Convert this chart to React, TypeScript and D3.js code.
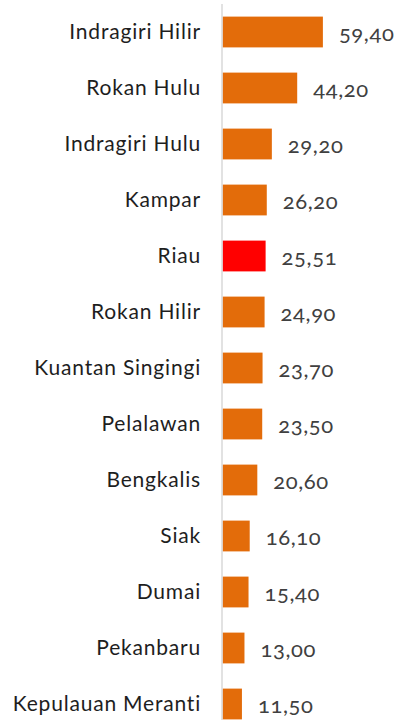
import React from "react";
import * as d3 from "d3";

const categories = [
  "Indragiri Hilir",
  "Rokan Hulu",
  "Indragiri Hulu",
  "Kampar",
  "Riau",
  "Rokan Hilir",
  "Kuantan Singingi",
  "Pelalawan",
  "Bengkalis",
  "Siak",
  "Dumai",
  "Pekanbaru",
  "Kepulauan Meranti",
];
const values = [59.4, 44.2, 29.2, 26.2, 25.51, 24.9, 23.7, 23.5, 20.6, 16.1, 15.4, 13.0, 11.5];
const highlight = "Riau";

const W = 402;
const H = 720;
const axisX = 222;

export default function App() {
  const y = d3
    .scaleBand<string>()
    .domain(categories)
    .range([4, 732])
    .paddingInner(0.45)
    .paddingOuter(0.225);
  const x = d3.scaleLinear().domain([0, 100]).range([axisX + 0.5, axisX + 0.5 + 169]);
  const fmt = (v: number) => v.toFixed(2).replace(".", ",");
  const font = "Lato, 'Open Sans', sans-serif";
  return (
    <div style={{ position: "absolute", left: 0, top: 0 }}>
      <svg width={W} height={H} style={{ display: "block" }}>
        <rect width={W} height={H} fill="#ffffff" />
        {categories.map((c, i) => {
          const yy = y(c)!;
          const bw = y.bandwidth();
          return (
            <g key={c}>
              <rect
                x={x(0)}
                y={yy}
                width={x(values[i]) - x(0)}
                height={bw}
                fill={c === highlight ? "#FF0000" : "#E36C0A"}
              />
              <text
                x={201}
                y={yy + bw / 2}
                dy="0.35em"
                textAnchor="end"
                fontFamily={font}
                fontSize={21}
                fontWeight={400}
                letterSpacing={0.8}
                fill="#1e1e1e"
              >
                {c}
              </text>
              <text
                x={x(values[i]) + 16}
                y={yy + bw / 2 + 1}
                dy="0.35em"
                textAnchor="start"
                fontFamily={font}
                fontSize={22}
                fontWeight={400}
                letterSpacing={0.6}
                fill="#404040"
                style={{ fontVariantNumeric: "oldstyle-nums" }}
              >
                {fmt(values[i])}
              </text>
            </g>
          );
        })}
        <line x1={axisX} x2={axisX} y1={4} y2={H} stroke="#d9d9d9" strokeWidth={1.5} />
      </svg>
    </div>
  );
}
